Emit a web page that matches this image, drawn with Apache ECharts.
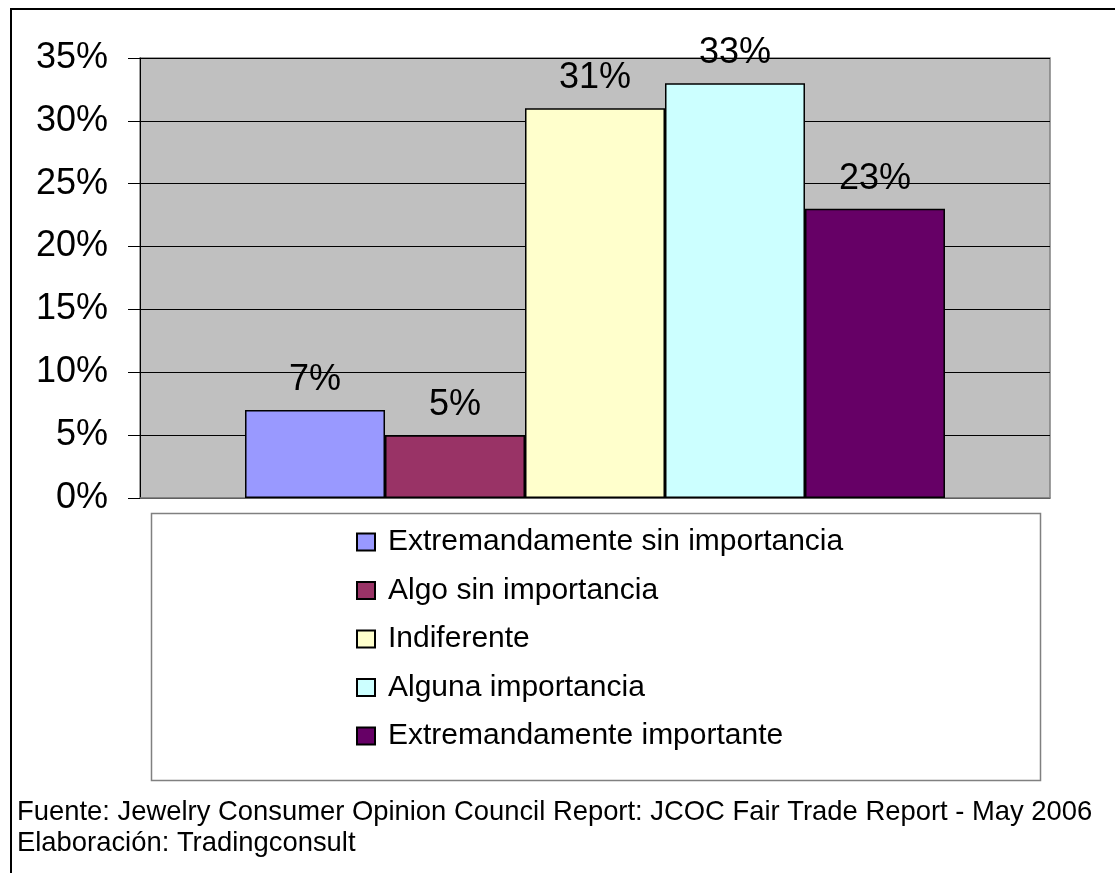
<!DOCTYPE html>
<html>
<head>
<meta charset="utf-8">
<script src="https://cdn.jsdelivr.net/npm/echarts@6/dist/echarts.min.js"></script>
<style>
html,body{margin:0;padding:0;background:#fff;}
#chart{width:1115px;height:873px;}
</style>
</head>
<body>
<div id="chart"></div>
<script>
var categories = [''];
var seriesNames = [
  'Extremandamente sin importancia',
  'Algo sin importancia',
  'Indiferente',
  'Alguna importancia',
  'Extremandamente importante'
];
var seriesValues = [7, 5, 31, 33, 23];
var seriesColors = ['#9999FF', '#993366', '#FFFFCC', '#CCFFFF', '#660066'];
var yTicks = { min: 0, max: 35, interval: 5 };
var footerLines = [
  'Fuente: Jewelry Consumer Opinion Council Report: JCOC Fair Trade Report - May 2006',
  'Elaboración: Tradingconsult'
];

var FONT = '"Liberation Sans", Arial, sans-serif';
var chart = echarts.init(document.getElementById('chart'), null, { renderer: 'canvas' });

var series = seriesNames.map(function (name, i) {
  return {
    name: name,
    type: 'bar',
    data: [seriesValues[i]],
    barGap: '0%',
    barCategoryGap: '23.08%',
    itemStyle: { color: seriesColors[i], borderColor: '#000', borderWidth: 1.5 },
    label: {
      show: true,
      position: 'top',
      distance: 12,
      formatter: '{c}%',
      fontFamily: FONT,
      fontSize: 36,
      color: '#000'
    }
  };
});

chart.setOption({
  animation: false,
  backgroundColor: '#fff',
  textStyle: { fontFamily: FONT },
  grid: {
    left: 140, right: 65, top: 58, bottom: 375,
    show: true, backgroundColor: '#C0C0C0', borderColor: '#808080', borderWidth: 1.5
  },
  xAxis: {
    type: 'category',
    data: categories,
    axisLine: { show: true, lineStyle: { color: '#808080', width: 1.5 } },
    axisTick: { show: false },
    axisLabel: { show: false }
  },
  yAxis: {
    type: 'value',
    min: yTicks.min, max: yTicks.max, interval: yTicks.interval,
    axisLine: { show: true, lineStyle: { color: '#000', width: 1 } },
    axisTick: { show: true, inside: false, length: 12, lineStyle: { color: '#000' } },
    axisLabel: { formatter: '{value}%', fontFamily: FONT, fontSize: 36, color: '#000', margin: 32 },
    splitLine: { show: true, lineStyle: { color: '#000', width: 1 } }
  },
  legend: {
    orient: 'vertical',
    left: 356, top: 527,
    padding: 0,
    itemWidth: 18, itemHeight: 17,
    itemGap: 18.5,
    icon: 'rect',
    selectedMode: false,
    textStyle: { fontFamily: FONT, fontSize: 30, color: '#000', padding: [0, 0, 0, 8] },
    data: seriesNames
  },
  graphic: [
    {
      type: 'polyline', silent: true,
      shape: { points: [[11, 873], [11, 9], [1115, 9]] },
      style: { stroke: '#000', lineWidth: 2, fill: null }
    },
    {
      type: 'rect', silent: true,
      shape: { x: 151.5, y: 513.5, width: 889, height: 267 },
      style: { stroke: '#808080', lineWidth: 1.5, fill: '#fff' },
      z: -1
    },
    {
      type: 'text', left: 17, top: 799, silent: true,
      style: { text: footerLines[0], font: '27.4px ' + FONT, fill: '#000' }
    },
    {
      type: 'text', left: 17, top: 830, silent: true,
      style: { text: footerLines[1], font: '27.4px ' + FONT, fill: '#000' }
    }
  ],
  series: series
});
</script>
</body>
</html>
